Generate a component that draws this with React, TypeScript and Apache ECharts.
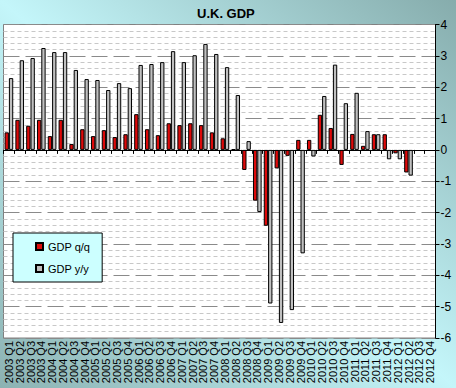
import React, { useEffect, useRef } from "react";
import * as echarts from "echarts";

const years = ["2003", "2004", "2005", "2006", "2007", "2008", "2009", "2010", "2011", "2012"];
const quarters = ["Q1", "Q2", "Q3", "Q4"];
const categories: string[] = [];
years.forEach((y) => quarters.forEach((q) => categories.push(`${y} ${q}`)));

const gdpQQ: (number | null)[] = [
  0.56, 0.96, 0.77, 0.96,
  0.44, 0.96, 0.19, 0.66,
  0.44, 0.63, 0.41, 0.5,
  1.14, 0.66, 0.47, 0.85,
  0.79, 0.85, 0.79, 0.56,
  0.37, 0.02, -0.64, -1.62,
  -2.42, -0.59, -0.19, 0.32,
  0.32, 1.12, 0.7, -0.48,
  0.51, 0.13, 0.5, 0.5,
  -0.11, -0.72, null, null,
];

const gdpYY: (number | null)[] = [
  2.29, 2.86, 2.93, 3.25,
  3.12, 3.12, 2.55, 2.26,
  2.23, 1.91, 2.13, 1.97,
  2.71, 2.74, 2.8, 3.15,
  2.8, 3.02, 3.38, 3.06,
  2.64, 1.75, 0.28, -1.98,
  -4.9, -5.52, -5.11, -3.3,
  -0.21, 1.72, 2.72, 1.49,
  1.82, 0.6, 0.5, -0.3,
  -0.3, -0.82, null, null,
];

const FONT = "Arial, 'Liberation Sans', sans-serif";

export default function App() {
  const ref = useRef<HTMLDivElement>(null);
  useEffect(() => {
    if (!ref.current) return;
    const chart = echarts.init(ref.current, null, { renderer: "svg" });
    chart.setOption({
      animation: false,
      backgroundColor: new echarts.graphic.LinearGradient(1, 0, 0, 1, [
        { offset: 0, color: "#86acac" },
        { offset: 0.5, color: "#c4f6fa" },
        { offset: 1, color: "#8cb2b2" },
      ]),
      title: {
        text: "U.K. GDP",
        left: 192,
        top: 2,
        textStyle: { fontFamily: FONT, fontSize: 13, fontWeight: "bold", color: "#000" },
      },
      grid: {
        left: 3.5,
        right: 20.5,
        top: 24.5,
        bottom: 50,
        show: true,
        backgroundColor: "#ffffff",
        borderColor: "#808080",
        borderWidth: 1,
        containLabel: false,
      },
      legend: {
        orient: "vertical",
        left: 13,
        top: 233,
        backgroundColor: "#ccffff",
        borderColor: "#000",
        borderWidth: 1,
        borderRadius: 0,
        padding: [7, 12, 7, 22],
        itemGap: 9,
        itemWidth: 7,
        itemHeight: 7,
        icon: "rect",
        textStyle: { fontFamily: FONT, fontSize: 11, color: "#000", lineHeight: 13 },
        data: ["GDP q/q", "GDP y/y"],
      },
      xAxis: [
        {
          type: "category",
          data: categories,
          position: "bottom",
          axisLine: { show: false, onZero: false },
          axisTick: { show: false },
          axisLabel: {
            interval: 0,
            rotate: 90,
            margin: 3,
            fontFamily: FONT,
            fontSize: 11,
            color: "#000",
          },
          splitLine: { show: false },
        },
        {
          type: "category",
          data: categories,
          position: "bottom",
          axisLine: { show: true, onZero: true, onZeroAxisIndex: 0, lineStyle: { color: "#000", width: 1 } },
          axisTick: { show: true, inside: false, length: 4, interval: 0, lineStyle: { color: "#000" } },
          axisLabel: { show: false },
          splitLine: { show: false },
        },
      ],
      yAxis: {
        type: "value",
        position: "right",
        min: -6,
        max: 4,
        interval: 1,
        axisLine: { show: true, lineStyle: { color: "#000" } },
        axisTick: { show: true, length: 4, lineStyle: { color: "#000" } },
        axisLabel: { margin: 5, fontFamily: FONT, fontSize: 12, color: "#000" },
        splitLine: { show: true, lineStyle: { color: "#8a8a8a", type: [16, 6], width: 1 } },
        minorTick: { show: false, splitNumber: 5 },
        minorSplitLine: { show: true, lineStyle: { color: "#c8c8c8", type: [4, 3], width: 1 } },
      },
      series: [
        {
          name: "GDP q/q",
          type: "bar",
          xAxisIndex: 0,
          data: gdpQQ,
          barCategoryGap: "20%",
          barGap: "0%",
          itemStyle: { color: "#dd0a0a", borderColor: "#000", borderWidth: 1 },
        },
        {
          name: "GDP y/y",
          type: "bar",
          xAxisIndex: 0,
          data: gdpYY,
          barCategoryGap: "20%",
          barGap: "0%",
          itemStyle: { color: "#c0c0c0", borderColor: "#000", borderWidth: 1 },
        },
      ],
    });
    return () => chart.dispose();
  }, []);
  return (
    <div
      ref={ref}
      style={{ position: "fixed", left: 0, top: 0, width: 456, height: 388 }}
    />
  );
}
